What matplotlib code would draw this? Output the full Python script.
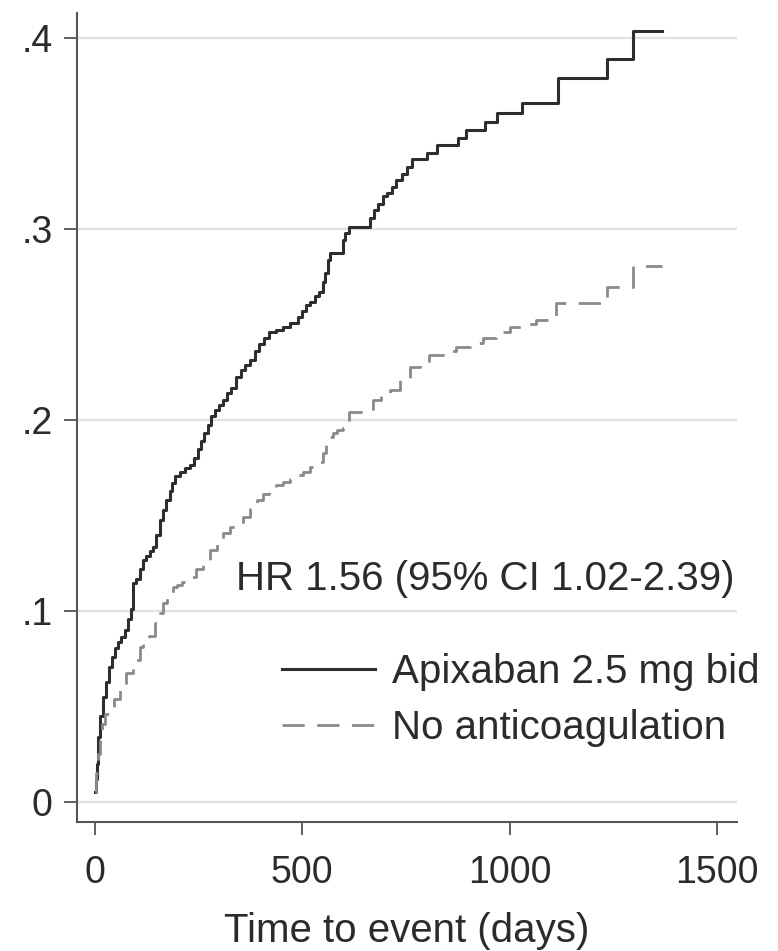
import matplotlib
matplotlib.use("Agg")
import matplotlib.pyplot as plt

plt.rcParams['font.family'] = ['Liberation Sans', 'DejaVu Sans']

# cumulative incidence (step curves)
apix_days = [0, 2, 4, 7, 12, 19, 27, 35, 42, 48, 56, 64, 72, 79, 86, 92, 100, 108,
             116, 124, 132, 140, 148, 156, 164, 172, 181, 187, 193, 205, 218, 229,
             238, 248, 256, 264, 272, 281, 289, 300, 309, 318, 329, 341, 352, 363,
             373, 385, 397, 409, 421, 437, 453, 470, 489, 500, 510, 520, 530, 540,
             550, 556, 562, 566, 598, 603, 612, 663, 672, 683, 694, 705, 716, 727,
             740, 752, 766, 800, 825, 875, 896, 940, 969, 1029, 1116, 1234, 1297, 1367]
apix_inc = [0.005, 0.012, 0.020, 0.034, 0.045, 0.055, 0.063, 0.0707, 0.076, 0.0806,
            0.084, 0.0865, 0.090, 0.096, 0.101, 0.1147, 0.117, 0.122, 0.1267, 0.129,
            0.1315, 0.1335, 0.140, 0.1476, 0.153, 0.158, 0.163, 0.167, 0.1705, 0.173,
            0.175, 0.1764, 0.180, 0.185, 0.189, 0.193, 0.1975, 0.202, 0.205, 0.208,
            0.2105, 0.214, 0.217, 0.2225, 0.226, 0.229, 0.2314, 0.236, 0.240, 0.243,
            0.246, 0.247, 0.2487, 0.251, 0.254, 0.257, 0.260, 0.262, 0.265, 0.267,
            0.272, 0.277, 0.284, 0.2876, 0.294, 0.298, 0.301, 0.306, 0.310, 0.313,
            0.317, 0.319, 0.322, 0.3257, 0.329, 0.3326, 0.3366, 0.340, 0.344, 0.3476,
            0.3518, 0.3562, 0.3609, 0.3659, 0.379, 0.389, 0.4035, 0.4035]

noac_days = [0, 3, 7, 12, 18, 25, 35, 45, 60, 76, 92, 108, 116, 130, 144, 156, 164,
             173, 188, 197, 209, 229, 245, 261, 277, 294, 310, 325, 341, 357, 374,
             390, 405, 421, 437, 453, 470, 486, 502, 518, 534, 550, 558, 566, 575,
             583, 598, 614, 642, 670, 690, 711, 735, 759, 783, 807, 840, 872, 904,
             936, 968, 1001, 1033, 1065, 1113, 1234, 1298, 1367]
noac_inc = [0.005, 0.015, 0.025, 0.034, 0.041, 0.046, 0.0497, 0.054, 0.0586, 0.0675,
            0.0743, 0.081, 0.0825, 0.087, 0.0937, 0.099, 0.104, 0.107, 0.1126, 0.1135,
            0.1152, 0.1178, 0.122, 0.1267, 0.132, 0.137, 0.141, 0.144, 0.1465, 0.149,
            0.1535, 0.158, 0.161, 0.164, 0.166, 0.1675, 0.169, 0.171, 0.173, 0.1755,
            0.178, 0.1826, 0.187, 0.191, 0.193, 0.1947, 0.1957, 0.204, 0.206, 0.2105,
            0.213, 0.2157, 0.221, 0.2277, 0.231, 0.234, 0.236, 0.2382, 0.2405, 0.243,
            0.246, 0.2487, 0.2505, 0.2524, 0.2613, 0.2696, 0.2807, 0.2807]

y_ticks = [0, 0.1, 0.2, 0.3, 0.4]
y_labels = ['0', '.1', '.2', '.3', '.4']
x_ticks = [0, 500, 1000, 1500]
labels = ['Apixaban 2.5 mg bid', 'No anticoagulation']
hr_text = 'HR 1.56 (95% CI 1.02-2.39)'

txt = '#2b2b2b'

fig = plt.figure(figsize=(7.78, 9.51), dpi=100)
ax = fig.add_axes([0.099, 0.1356, 0.848, 0.8508])

for y in y_ticks:
    ax.axhline(y, color='#e0e0e0', lw=1.6, zorder=0)

ax.plot(apix_days, apix_inc, drawstyle='steps-post', color='#2e2e2e', lw=2.2,
        label=labels[0])
ax.plot(noac_days, noac_inc, drawstyle='steps-post', color='#8a8a8a', lw=2.0,
        dashes=(8, 4.5), label=labels[1])

ax.set_xlim(-43, 1548)
ax.set_ylim(-0.0105, 0.4131)

ax.set_yticks(y_ticks)
ax.set_yticklabels(y_labels)
ax.set_xticks(x_ticks)

for side in ['top', 'right']:
    ax.spines[side].set_visible(False)
for side in ['left', 'bottom']:
    ax.spines[side].set_color('#555555')
    ax.spines[side].set_linewidth(1.5)

ax.tick_params(axis='both', colors='#555555', labelcolor=txt, length=9.5,
               width=1.3, labelsize=27)
ax.tick_params(axis='x', pad=14)
ax.tick_params(axis='y', pad=8)

ax.set_xlabel('Time to event (days)', fontsize=29, color=txt, labelpad=15)

ax.text(0.997, 0.301, hr_text, transform=ax.transAxes, ha='right', va='center',
        fontsize=29, color=txt)

leg = ax.legend(loc='center left', bbox_to_anchor=(0.3106, 0.1509), frameon=False,
                fontsize=29, handlelength=2.31, handletextpad=0.42,
                labelspacing=0.45, borderpad=0, borderaxespad=0)
for t in leg.get_texts():
    t.set_color(txt)

fig.savefig('out.png', dpi=100)
